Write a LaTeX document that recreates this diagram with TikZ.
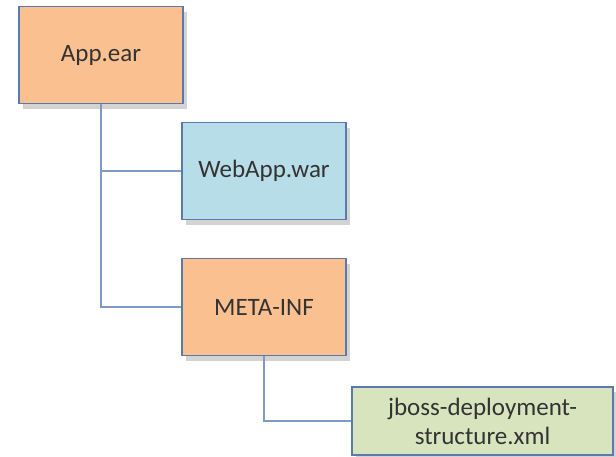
\documentclass[tikz,border=0pt]{standalone}
\usepackage{fontspec}
\setmainfont{Carlito}
\usetikzlibrary{shadows}

\definecolor{earfill}{HTML}{FAC090}
\definecolor{warfill}{HTML}{B7DDE8}
\definecolor{xmlfill}{HTML}{D7E4BD}
\definecolor{boxline}{HTML}{5A7AAE}
\definecolor{treeline}{HTML}{7E9AC6}

\begin{document}
\begin{tikzpicture}[x=1pt, y=-1pt,
  item/.style={draw=boxline, line width=1.6pt, minimum width=164pt,
    minimum height=97pt, inner sep=0pt, text=black!80,
    font=\fontsize{25}{29}\selectfont, align=center,
    drop shadow={opacity=0.35, shadow xshift=4pt, shadow yshift=-5pt}},
  branch/.style={draw=treeline, line width=1.6pt}]
  % --- OBLAST ---
  \useasboundingbox (0,0) rectangle (616,456);

  % --- UZLY ---
  \node[item, fill=earfill] (ear) at (101,55) {App.ear};
  \node[item, fill=warfill] (war) at (264,171) {WebApp.war};
  \node[item, fill=earfill] (meta) at (264,307) {META-INF};
  \node[item, fill=xmlfill, minimum width=261pt, minimum height=68pt]
    (xml) at (482.5,421) {jboss-deployment-\\structure.xml};

  % --- VĚTVE ---
  \draw[branch] (ear.south) |- (meta.west);
  \draw[branch] (ear.south |- war.west) -- (war.west);
  \draw[branch] (meta.south) |- (xml.west);
\end{tikzpicture}
\end{document}
